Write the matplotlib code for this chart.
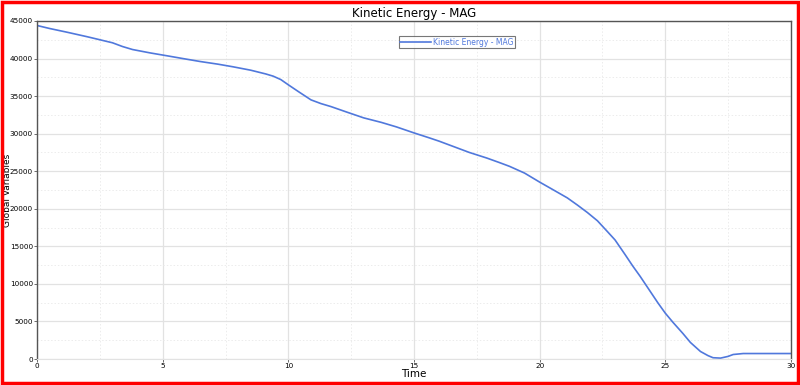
import matplotlib.pyplot as plt
from matplotlib.patches import Rectangle
from matplotlib.ticker import MultipleLocator

# Kinetic energy curve
time = [0.0, 0.5, 1.2, 2.0, 2.5, 3.0, 3.4, 3.8, 4.5, 5.2, 5.8, 6.5, 7.2, 7.8,
        8.5, 9.1, 9.4, 9.7, 10.0, 10.4, 10.9, 11.3, 11.7, 12.3, 13.0, 13.7,
        14.3, 15.0, 15.6, 16.0, 16.6, 17.2, 17.9, 18.4, 18.8, 19.4, 20.0,
        20.5, 21.1, 21.5, 21.9, 22.3, 22.7, 23.0, 23.4, 23.7, 24.0, 24.4,
        24.7, 25.0, 25.3, 25.7, 26.0, 26.4, 26.7, 26.9, 27.2, 27.5, 27.7,
        28.1, 28.5, 29.0, 29.5, 30.0]
energy = [44400, 44000, 43500, 42900, 42500, 42100, 41600, 41200, 40750, 40350,
          40000, 39600, 39250, 38900, 38450, 37950, 37650, 37200, 36500, 35600,
          34500, 34000, 33600, 32900, 32100, 31500, 30900, 30100, 29450, 29000,
          28250, 27500, 26750, 26150, 25650, 24750, 23550, 22600, 21450, 20500,
          19500, 18400, 16950, 15850, 13900, 12400, 11000, 9000, 7500, 6100,
          4900, 3400, 2200, 1000, 450, 170, 120, 350, 600, 730, 730, 730, 730,
          730]

LINE = "#5078dc"

fig = plt.figure(figsize=(8, 3.85), dpi=100)
ax = fig.add_axes([0.0463, 0.0675, 0.9424, 0.878])

ax.plot(time, energy, color=LINE, lw=1.2, label="Kinetic Energy - MAG")

ax.set_xlim(0, 30)
ax.set_ylim(0, 45000)
ax.xaxis.set_major_locator(MultipleLocator(5))
ax.xaxis.set_minor_locator(MultipleLocator(2.5))
ax.yaxis.set_major_locator(MultipleLocator(5000))
ax.yaxis.set_minor_locator(MultipleLocator(2500))

ax.grid(which="major", color="#e2e2e2", lw=0.9)
ax.grid(which="minor", color="#ececec", lw=0.7, ls=(0, (1.5, 2)))
ax.set_axisbelow(True)

for s in ["left", "top", "right"]:
    ax.spines[s].set_color("#555555")
    ax.spines[s].set_linewidth(1.0)
ax.spines["bottom"].set_color("#e2e2e2")

ax.tick_params(which="major", labelsize=5.2, length=2, width=0.6, color="#555555", pad=1)
ax.tick_params(which="minor", length=0)

ax.set_xlabel("Time", fontsize=7.5, labelpad=0)
ax.set_ylabel("Global Variables", fontsize=6.5)
ax.yaxis.set_label_coords(-0.0335, 0.5)
ax.set_title("Kinetic Energy - MAG", fontsize=8.5, pad=3)

leg = ax.legend(loc="upper left", bbox_to_anchor=(0.48, 0.955), fontsize=5.5,
                frameon=True, fancybox=False, edgecolor="#555555",
                handlelength=4, borderpad=0.2, handletextpad=0.3,
                borderaxespad=0)
leg.get_frame().set_linewidth(0.8)
for txt in leg.get_texts():
    txt.set_color(LINE)

# red frame around the whole picture
fig.patches.append(Rectangle((0.002, 0.004), 0.996, 0.992, transform=fig.transFigure,
                             fill=False, edgecolor="#ff0000", lw=2.5))

fig.savefig("out.png", dpi=100)
